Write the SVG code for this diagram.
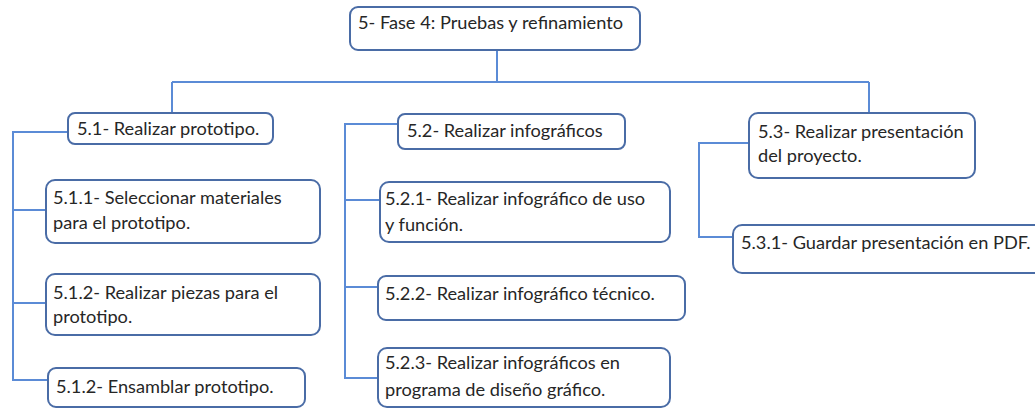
<svg xmlns="http://www.w3.org/2000/svg" width="1035" height="410" viewBox="0 0 1035 410">
<style>
.box{fill:#ffffff;stroke:#4a6ca6;stroke-width:2}
.t{font-family:Lato,"Open Sans","Liberation Sans",sans-serif;font-size:18.2px;fill:#262626}
.c{fill:none;stroke:#5b8bd6;stroke-width:2}
</style>
<rect width="1035" height="410" fill="#ffffff"/>
<g id="connectors">
<path class="c" d="M497,50 V82 M172,82 H869 M172,82 V113 M869,82 V113"/>
<path class="c" d="M68,132 H13 V380 H48 M13,210 H46 M13,303 H46"/>
<path class="c" d="M398,124 H345 V378 H378 M345,200 H380 M345,287 H378"/>
<path class="c" d="M749,143 H699 V237 H733"/>
</g>
<g id="n5">
<rect class="box" x="350" y="7" width="290" height="43" rx="8"/>
<text class="t" x="358" y="29">5- Fase 4: Pruebas y refinamiento</text>
</g>
<g id="n51">
<rect class="box" x="68" y="113" width="205" height="31" rx="7"/>
<text class="t" x="77" y="135">5.1- Realizar prototipo.</text>
</g>
<g id="n511">
<rect class="box" x="46" y="180" width="274" height="63" rx="9"/>
<text class="t" x="53" y="204">5.1.1- Seleccionar materiales</text>
<text class="t" x="53" y="229">para el prototipo.</text>
</g>
<g id="n512">
<rect class="box" x="46" y="274" width="274" height="61" rx="9"/>
<text class="t" x="53" y="299">5.1.2- Realizar piezas para el</text>
<text class="t" x="53" y="323">prototipo.</text>
</g>
<g id="n513">
<rect class="box" x="48" y="368" width="257" height="39" rx="8"/>
<text class="t" x="56" y="393">5.1.2- Ensamblar prototipo.</text>
</g>
<g id="n52">
<rect class="box" x="398" y="114" width="227" height="35" rx="7"/>
<text class="t" x="407" y="137">5.2- Realizar infográficos</text>
</g>
<g id="n521">
<rect class="box" x="380" y="182" width="290" height="60" rx="9"/>
<text class="t" x="385" y="205">5.2.1- Realizar infográfico de uso</text>
<text class="t" x="385" y="231">y función.</text>
</g>
<g id="n522">
<rect class="box" x="378" y="276" width="307" height="44" rx="8"/>
<text class="t" x="385" y="300">5.2.2- Realizar infográfico técnico.</text>
</g>
<g id="n523">
<rect class="box" x="378" y="348" width="292" height="59" rx="9"/>
<text class="t" x="385" y="369">5.2.3- Realizar infográficos en</text>
<text class="t" x="385" y="396">programa de diseño gráfico.</text>
</g>
<g id="n53">
<rect class="box" x="749" y="113" width="226" height="65" rx="9"/>
<text class="t" x="758" y="138">5.3- Realizar presentación</text>
<text class="t" x="758" y="162">del proyecto.</text>
</g>
<g id="n531">
<rect class="box" x="733" y="225" width="320" height="48" rx="9"/>
<text class="t" x="741" y="249">5.3.1- Guardar presentación en PDF.</text>
</g>
</svg>
